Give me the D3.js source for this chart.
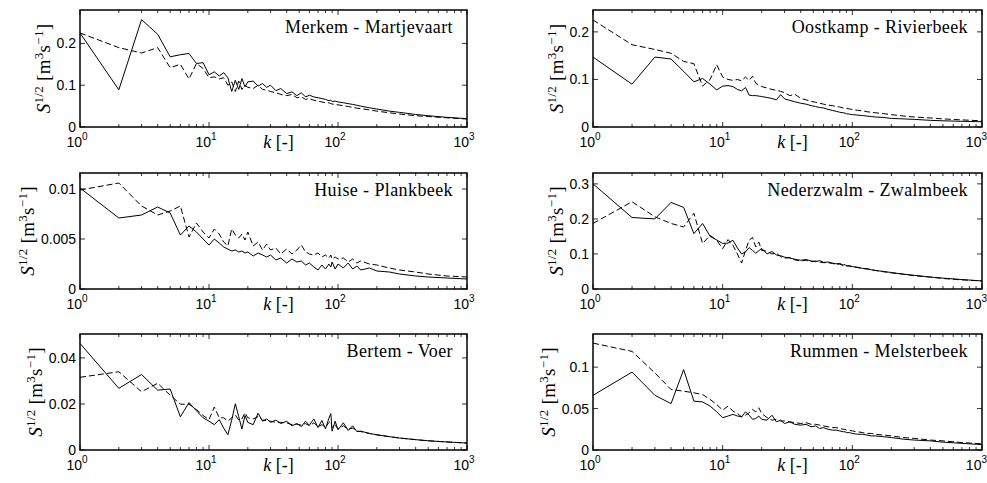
<!DOCTYPE html>
<html>
<head>
<meta charset="utf-8">
<script src="https://cdn.jsdelivr.net/npm/d3@7"></script>
<style>
  body { margin: 0; background: #fff; }
  svg { display: block; }
</style>
</head>
<body>
<div id="chart"></div>
<script>
// wavenumbers k (shared by every series)
var ks = [1,2,3,4,5,6,7,8,9,10,11,12,13,14,15,16,17,18,19,20,
  22,24,26,28,30,33,36,40,44,48,52,56,60,
  65,70,75,80,85,88,90,95,100,
  110,120,130,140,150,175,200,
  250,300,400,500,700,1000];

var merkemSolid = [0.225,0.089,0.257,0.222,0.168,0.173,0.176,0.152,0.154,0.125,
  0.132,0.122,0.13,0.118,0.085,0.112,0.09,0.116,0.096,0.108,
  0.11,0.098,0.104,0.095,0.1,0.087,0.092,0.08,0.084,0.075,0.082,0.072,0.076,
  0.072,0.07,0.068,0.066,0.063,0.064,0.061,0.062,0.06,
  0.058,0.056,0.054,0.052,0.05,0.046,0.043,
  0.038,0.035,0.03,0.027,0.023,0.02];
var merkemDashed = [0.225,0.19,0.177,0.19,0.142,0.15,0.115,0.152,0.14,0.118,
  0.12,0.115,0.118,0.1,0.108,0.085,0.11,0.09,0.1,0.095,
  0.092,0.1,0.09,0.088,0.085,0.082,0.078,0.075,0.078,0.07,0.072,0.066,0.068,
  0.064,0.062,0.06,0.058,0.058,0.056,0.055,0.054,0.053,
  0.051,0.049,0.047,0.045,0.044,0.041,0.038,
  0.034,0.031,0.027,0.025,0.022,0.019];

var oostkampSolid = [0.147,0.09,0.147,0.143,0.117,0.095,0.102,0.09,0.078,0.086,
  0.087,0.085,0.079,0.076,0.083,0.067,0.066,0.066,0.065,0.064,
  0.062,0.06,0.057,0.068,0.059,0.056,0.053,0.05,0.048,0.045,0.043,0.041,0.04,
  0.037,0.035,0.033,0.031,0.03,0.029,0.028,0.027,0.026,
  0.025,0.024,0.023,0.022,0.021,0.02,0.018,
  0.017,0.016,0.014,0.013,0.012,0.011];
var oostkampDashed = [0.225,0.173,0.163,0.155,0.138,0.133,0.086,0.1,0.131,0.105,
  0.1,0.098,0.1,0.097,0.105,0.098,0.107,0.092,0.088,0.085,
  0.082,0.079,0.077,0.075,0.072,0.066,0.069,0.06,0.057,0.054,0.052,0.05,0.048,
  0.046,0.045,0.043,0.042,0.04,0.04,0.039,0.038,0.037,
  0.035,0.034,0.032,0.031,0.03,0.028,0.026,
  0.023,0.021,0.019,0.017,0.015,0.013];

var huiseSolid = [0.0101,0.0071,0.0074,0.0082,0.0076,0.0054,0.0063,0.0057,0.005,0.0044,
  0.005,0.0046,0.0042,0.004,0.0038,0.0039,0.0037,0.0038,0.0036,0.0037,
  0.0033,0.0036,0.0034,0.0032,0.0034,0.0029,0.0031,0.0026,0.003,0.0027,0.0028,0.0024,0.0026,
  0.0022,0.0019,0.0024,0.002,0.0025,0.0022,0.0027,0.002,0.0025,
  0.0021,0.0026,0.002,0.0023,0.0019,0.0021,0.0018,
  0.0017,0.0015,0.0013,0.0012,0.0011,0.001];
var huiseDashed = [0.0099,0.0106,0.0083,0.0074,0.0078,0.0083,0.0052,0.0066,0.0057,0.0051,
  0.006,0.0055,0.0047,0.0043,0.006,0.0054,0.0051,0.0055,0.0049,0.0057,
  0.0043,0.0047,0.0039,0.0045,0.0039,0.0041,0.0035,0.004,0.0035,0.0039,0.0044,0.0037,0.0035,
  0.0034,0.0036,0.0032,0.0034,0.0031,0.0034,0.003,0.0032,0.003,
  0.0031,0.0027,0.003,0.0026,0.0028,0.0025,0.0024,
  0.0021,0.0019,0.0017,0.0015,0.0013,0.0012];

var nederzwalmSolid = [0.3,0.204,0.2,0.247,0.233,0.158,0.187,0.15,0.14,0.13,
  0.131,0.139,0.117,0.1,0.106,0.118,0.11,0.102,0.109,0.116,
  0.1,0.107,0.097,0.095,0.091,0.088,0.085,0.082,0.084,0.08,0.078,0.081,0.076,
  0.077,0.074,0.072,0.073,0.068,0.07,0.066,0.067,0.064,
  0.062,0.059,0.058,0.055,0.053,0.05,0.047,
  0.042,0.039,0.034,0.031,0.027,0.023];
var nederzwalmDashed = [0.187,0.249,0.206,0.187,0.177,0.216,0.13,0.153,0.139,0.115,
  0.141,0.125,0.1,0.074,0.11,0.139,0.147,0.12,0.134,0.11,
  0.108,0.1,0.102,0.092,0.088,0.09,0.083,0.08,0.082,0.078,0.08,0.077,0.075,
  0.075,0.073,0.07,0.071,0.067,0.068,0.066,0.065,0.063,
  0.061,0.058,0.057,0.055,0.053,0.049,0.046,
  0.042,0.038,0.034,0.03,0.026,0.023];

var bertemSolid = [0.0463,0.0268,0.0328,0.026,0.0265,0.0144,0.0206,0.017,0.014,0.0125,
  0.011,0.0132,0.0095,0.0066,0.013,0.0201,0.0145,0.0091,0.015,0.012,
  0.011,0.016,0.0125,0.0135,0.012,0.013,0.0115,0.0125,0.0105,0.0115,0.0102,0.0125,0.0108,
  0.0135,0.0098,0.0128,0.0092,0.0138,0.0158,0.0082,0.0125,0.0088,
  0.0118,0.0085,0.0105,0.008,0.0082,0.0072,0.0066,
  0.0058,0.0052,0.0045,0.004,0.0035,0.003];
var bertemDashed = [0.0316,0.034,0.0253,0.029,0.0238,0.0199,0.0199,0.0176,0.015,0.0132,
  0.0187,0.014,0.014,0.0125,0.014,0.0152,0.013,0.0135,0.0162,0.014,
  0.0135,0.0145,0.013,0.0128,0.0125,0.012,0.012,0.0118,0.011,0.0112,0.0108,0.0115,0.0105,
  0.0118,0.0102,0.011,0.0098,0.012,0.0125,0.0095,0.0108,0.0092,
  0.0105,0.009,0.0095,0.0082,0.008,0.0072,0.0066,
  0.0058,0.0052,0.0045,0.004,0.0035,0.003];

var rummenSolid = [0.066,0.094,0.066,0.056,0.097,0.059,0.058,0.053,0.046,0.039,
  0.041,0.043,0.041,0.04,0.046,0.042,0.037,0.038,0.041,0.037,
  0.036,0.042,0.034,0.036,0.032,0.034,0.031,0.03,0.031,0.028,0.029,0.026,0.027,
  0.025,0.024,0.024,0.023,0.022,0.022,0.021,0.021,0.02,
  0.019,0.019,0.018,0.017,0.017,0.016,0.015,
  0.013,0.012,0.011,0.0095,0.008,0.0065];
var rummenDashed = [0.129,0.119,0.093,0.073,0.071,0.069,0.067,0.061,0.055,0.048,
  0.053,0.047,0.044,0.04,0.042,0.045,0.049,0.046,0.051,0.044,
  0.039,0.036,0.037,0.035,0.035,0.034,0.033,0.032,0.033,0.031,0.031,0.03,0.029,
  0.028,0.027,0.027,0.026,0.025,0.025,0.024,0.024,0.023,
  0.022,0.021,0.02,0.02,0.019,0.018,0.017,
  0.015,0.014,0.012,0.011,0.009,0.0075];

var stationNames = ["Merkem - Martjevaart", "Oostkamp - Rivierbeek",
  "Huise - Plankbeek", "Nederzwalm - Zwalmbeek",
  "Bertem - Voer", "Rummen - Melsterbeek"];
var yTickValues = [[0,0.1,0.2], [0,0.1,0.2], [0,0.005,0.01], [0,0.1,0.2,0.3], [0,0.02,0.04], [0,0.05,0.1]];
var yMaxes = [0.28, 0.246, 0.0116, 0.331, 0.0504, 0.14];
var solids = [merkemSolid, oostkampSolid, huiseSolid, nederzwalmSolid, bertemSolid, rummenSolid];
var dashes = [merkemDashed, oostkampDashed, huiseDashed, nederzwalmDashed, bertemDashed, rummenDashed];

// layout of the 3x2 grid
var colLeft = [80, 593], colWidth = [387, 389];
var rowTop = [10, 173, 334], rowHeight = [117, 116, 116];

var svg = d3.select("#chart").append("svg")
  .attr("width", 987)
  .attr("height", 483);

var sans = "'Liberation Sans', Arial, sans-serif";
var serif = "'Liberation Serif', 'Times New Roman', serif";

stationNames.forEach(function(name, i) {
  var col = i % 2, row = Math.floor(i / 2);
  var w = colWidth[col], h = rowHeight[row];
  var g = svg.append("g")
    .attr("transform", "translate(" + colLeft[col] + "," + rowTop[row] + ")");

  var x = d3.scaleLog().domain([1, 1000]).range([0, w]);
  var y = d3.scaleLinear().domain([0, yMaxes[i]]).range([h, 0]);

  var line = d3.line()
    .x(function(d) { return x(d[0]); })
    .y(function(d) { return y(d[1]); });

  g.append("path")
    .datum(ks.map(function(k, j) { return [k, dashes[i][j]]; }))
    .attr("d", line)
    .attr("fill", "none")
    .attr("stroke", "#000")
    .attr("stroke-width", 1)
    .attr("stroke-dasharray", "6,3");

  g.append("path")
    .datum(ks.map(function(k, j) { return [k, solids[i][j]]; }))
    .attr("d", line)
    .attr("fill", "none")
    .attr("stroke", "#000")
    .attr("stroke-width", 1);

  // x ticks: major decades + minor, on bottom and top, pointing inward
  var majors = [1, 10, 100, 1000];
  var minors = [];
  [1, 10, 100].forEach(function(b) {
    for (var m = 2; m <= 9; m++) minors.push(b * m);
  });
  var ticks = g.append("g").attr("stroke", "#000").attr("stroke-width", 0.8);
  majors.forEach(function(v) {
    ticks.append("line").attr("x1", x(v)).attr("x2", x(v)).attr("y1", h).attr("y2", h - 5);
    ticks.append("line").attr("x1", x(v)).attr("x2", x(v)).attr("y1", 0).attr("y2", 5);
  });
  minors.forEach(function(v) {
    ticks.append("line").attr("x1", x(v)).attr("x2", x(v)).attr("y1", h).attr("y2", h - 3);
    ticks.append("line").attr("x1", x(v)).attr("x2", x(v)).attr("y1", 0).attr("y2", 3);
  });
  yTickValues[i].forEach(function(v) {
    ticks.append("line").attr("x1", 0).attr("x2", 5).attr("y1", y(v)).attr("y2", y(v));
    ticks.append("line").attr("x1", w).attr("x2", w - 5).attr("y1", y(v)).attr("y2", y(v));
  });

  // frame
  g.append("rect")
    .attr("width", w).attr("height", h)
    .attr("fill", "none")
    .attr("stroke", "#000")
    .attr("stroke-width", 1.5);

  // x tick labels 10^n (last one of the right column kept inside the page)
  majors.forEach(function(v, n) {
    var lastRight = (col === 1 && v === 1000);
    var t = g.append("text")
      .attr("x", lastRight ? 987 - colLeft[col] : x(v) - 3)
      .attr("y", h + 20)
      .attr("text-anchor", lastRight ? "end" : "middle")
      .attr("font-family", sans)
      .attr("font-size", 14);
    t.append("tspan").text("10");
    t.append("tspan").attr("dy", -7).attr("font-size", 10).text(n);
  });

  // y tick labels
  var maxLabelW = 0;
  yTickValues[i].forEach(function(v) {
    var t = g.append("text")
      .attr("x", -4)
      .attr("y", y(v) + 5)
      .attr("text-anchor", "end")
      .attr("font-family", sans)
      .attr("font-size", 14)
      .text(v === 0 ? "0" : String(v));
    maxLabelW = Math.max(maxLabelW, t.node().getComputedTextLength());
  });

  // x label
  var xl = g.append("text")
    .attr("x", w / 2 + 5)
    .attr("y", h + 21)
    .attr("text-anchor", "middle")
    .attr("font-family", serif)
    .attr("font-size", 18);
  xl.append("tspan").attr("font-style", "italic").text("k");
  xl.append("tspan").text("  [-]");

  // y label, placed just left of the widest tick label
  var yl = g.append("text")
    .attr("transform", "translate(" + (-(maxLabelW + 11)) + "," + (h / 2) + ") rotate(-90)")
    .attr("text-anchor", "middle")
    .attr("font-family", serif)
    .attr("font-size", 19)
    .attr("letter-spacing", 0.3);
  yl.append("tspan").attr("font-style", "italic").text("S");
  yl.append("tspan").attr("dy", -7).attr("font-size", 13).text("1/2");
  yl.append("tspan").attr("dy", 7).text(" [m");
  yl.append("tspan").attr("dy", -7).attr("font-size", 13).text("3");
  yl.append("tspan").attr("dy", 7).text("s");
  yl.append("tspan").attr("dy", -7).attr("font-size", 13).text("\u22121");
  yl.append("tspan").attr("dy", 7).text("]");

  // station name
  g.append("text")
    .attr("x", w - 14)
    .attr("y", 23)
    .attr("text-anchor", "end")
    .attr("font-family", serif)
    .attr("font-size", 18)
    .attr("letter-spacing", 0.4)
    .text(name);
});
</script>
</body>
</html>
